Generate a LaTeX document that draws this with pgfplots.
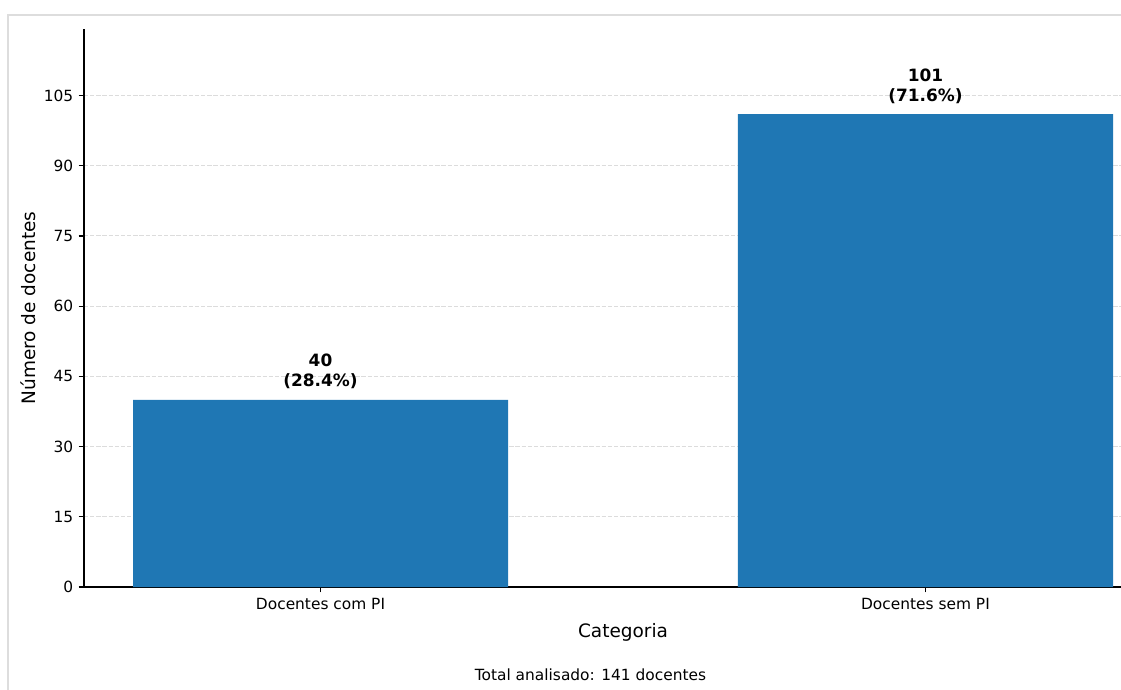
\documentclass[border=0pt]{standalone}
\usepackage{pgfplots}
\pgfplotsset{compat=1.18}
\usepackage{fontspec}
\setmainfont{DejaVu Sans}
\definecolor{barblue}{HTML}{1F77B4}
\definecolor{framegray}{HTML}{DDDDDD}
\definecolor{gridgray}{HTML}{DCDCDC}
% 1 px of the reference = 0.649pt
\begin{document}
\begin{tikzpicture}
\useasboundingbox (0,0) rectangle ({1121*0.649pt},{-689*0.649pt});
\clip (0,0) rectangle ({1121*0.649pt},{-689*0.649pt});
\draw[framegray, line width=1.3pt] ({8*0.649pt},{-700*0.649pt}) -- ({8*0.649pt},{-15*0.649pt}) -- ({1130*0.649pt},{-15*0.649pt});
\begin{axis}[
  at={({84*0.649pt},{-587*0.649pt})}, anchor=south west,
  scale only axis, width={1078*0.649pt}, height={558*0.649pt},
  xmin=-0.391, xmax=1.391, ymin=0, ymax=119.2,
  axis lines=left, axis line style={-, line width=0.8pt, black},
  tick align=outside, major tick length=3.5pt,
  every tick/.style={black, line width=0.8pt},
  xtick={0,1}, xticklabels={Docentes com PI, Docentes sem PI},
  ytick={0,15,...,105},
  tick label style={font=\fontsize{10}{12}\selectfont},
  /pgf/number format/assume math mode=true,
  ymajorgrids, major grid style={gridgray, line width=0.6pt, dash pattern=on 2.8pt off 1.2pt},
  xlabel={Categoria}, ylabel={Número de docentes},
  label style={font=\fontsize{12}{14}\selectfont},
  xlabel style={at={(axis description cs:0.5,-0.0896)}, anchor=base},
  ylabel style={at={(axis description cs:-0.052,0.5)}, anchor=center},
]
\addplot[ybar, bar width=0.62, fill=barblue, draw=none] coordinates {(0,40) (1,101)};
\node[anchor=base, font=\fontsize{11}{13}\bfseries] at (axis cs:0,40) [yshift=8.4pt] {(28.4\%)};
\node[anchor=base, font=\fontsize{11}{13}\bfseries] at (axis cs:0,40) [yshift=21.4pt] {40};
\node[anchor=base, font=\fontsize{11}{13}\bfseries] at (axis cs:1,101) [yshift=8.4pt] {(71.6\%)};
\node[anchor=base, font=\fontsize{11}{13}\bfseries] at (axis cs:1,101) [yshift=21.4pt] {101};
\end{axis}
\node[anchor=base, font=\fontsize{10}{12}\selectfont] at ({590.5*0.649pt},{-680*0.649pt}) {Total analisado: 141 docentes};
\end{tikzpicture}
\end{document}
